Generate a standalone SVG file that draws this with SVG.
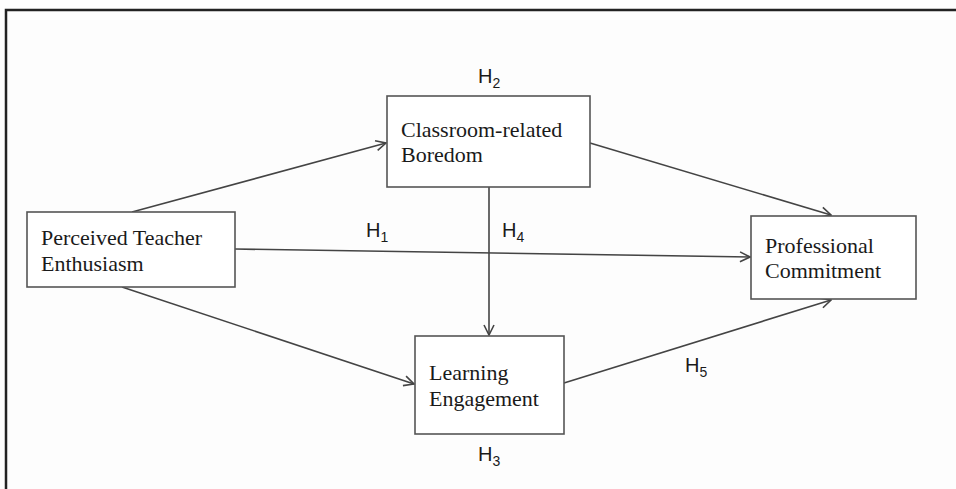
<svg xmlns="http://www.w3.org/2000/svg" width="956" height="489" viewBox="0 0 956 489">
<style>
.box{fill:#fff;stroke:#555;stroke-width:1.6}
.lbl{font-family:"Liberation Serif",serif;font-size:22px;fill:#1a1a1a}
.h{font-family:"Liberation Sans",Arial,sans-serif;font-size:20px;fill:#1a1a1a}
.sub{font-size:14px}
.conn{stroke:#444;stroke-width:1.6;fill:none;marker-end:url(#arr)}
</style>
<defs>
<marker id="arr" viewBox="0 0 12 12" refX="11" refY="6" markerWidth="12" markerHeight="12" markerUnits="userSpaceOnUse" orient="auto">
<path d="M1,1 L11,6 L1,11" fill="none" stroke="#444" stroke-width="1.6"/>
</marker>
</defs>
<rect width="956" height="489" fill="#fdfdfd"/>
<path d="M6,489 L6,10 L956,10" fill="none" stroke="#222" stroke-width="2.5"/>
<g id="connectors">
<line class="conn" x1="132" y1="212" x2="386" y2="143"/>
<line class="conn" x1="590" y1="143" x2="831" y2="215"/>
<line class="conn" x1="235" y1="249" x2="750" y2="257"/>
<line class="conn" x1="489" y1="187" x2="489" y2="335"/>
<line class="conn" x1="122" y1="287" x2="414" y2="384"/>
<line class="conn" x1="564" y1="383" x2="831" y2="300"/>
</g>
<g id="classroom">
<rect class="box" x="387" y="96" width="203" height="91"/>
<text class="lbl" x="401" y="137">Classroom-related</text>
<text class="lbl" x="401" y="162">Boredom</text>
</g>
<g id="perceived">
<rect class="box" x="27" y="212" width="208" height="75"/>
<text class="lbl" x="41" y="245">Perceived Teacher</text>
<text class="lbl" x="41" y="271">Enthusiasm</text>
</g>
<g id="professional">
<rect class="box" x="751" y="216" width="165" height="83"/>
<text class="lbl" x="765" y="253">Professional</text>
<text class="lbl" x="765" y="278">Commitment</text>
</g>
<g id="learning">
<rect class="box" x="415" y="336" width="149" height="98"/>
<text class="lbl" x="429" y="380">Learning</text>
<text class="lbl" x="429" y="406">Engagement</text>
</g>
<g id="labels">
<text class="h" x="478" y="83">H<tspan class="sub" dy="5">2</tspan></text>
<text class="h" x="366" y="237">H<tspan class="sub" dy="5">1</tspan></text>
<text class="h" x="502" y="237">H<tspan class="sub" dy="5">4</tspan></text>
<text class="h" x="478" y="461">H<tspan class="sub" dy="5">3</tspan></text>
<text class="h" x="685" y="372">H<tspan class="sub" dy="5">5</tspan></text>
</g>
</svg>
